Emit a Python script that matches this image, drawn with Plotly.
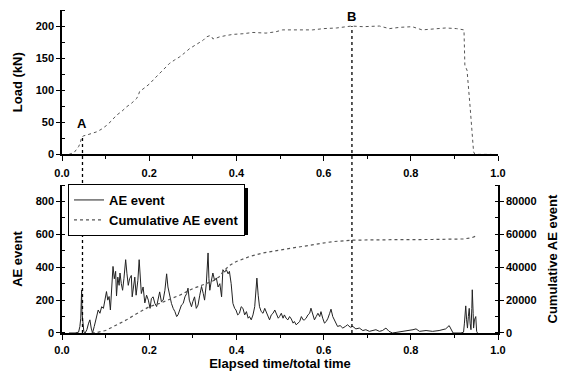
import plotly.graph_objects as go

# ---------------- data ----------------
LOAD_X = [0.016, 0.028, 0.038, 0.042, 0.045, 0.050, 0.056, 0.067, 0.079, 0.090, 0.102, 0.113,
          0.125, 0.137, 0.148, 0.160, 0.171, 0.175, 0.178, 0.190, 0.201, 0.212, 0.224, 0.236,
          0.247, 0.258, 0.270, 0.281, 0.293, 0.305, 0.316, 0.324, 0.331, 0.339, 0.343, 0.346,
          0.353, 0.361, 0.375, 0.392, 0.415, 0.438, 0.468, 0.490, 0.506, 0.529, 0.545, 0.575,
          0.600, 0.630, 0.664, 0.690, 0.728, 0.751, 0.775, 0.803, 0.826, 0.850, 0.880, 0.905,
          0.922, 0.924, 0.929, 0.936, 0.940, 0.944, 0.947, 0.985]
LOAD_Y = [0, 3, 12, 18, 27, 29, 30, 32, 35, 39, 45, 52,
          61, 67, 74, 80, 87, 92, 98, 104, 110, 118, 126, 134,
          142, 147, 152, 158, 165, 170, 175, 178, 183, 185, 184, 180,
          181, 183, 185, 187, 188, 190, 189, 191, 194, 194, 193, 194,
          196, 197, 200, 199, 200, 196, 198, 199, 194, 195, 197, 196,
          194, 139, 131, 74, 33, 4, 0, 0]

AE_X = [0.016, 0.030, 0.038, 0.041, 0.043, 0.044, 0.045, 0.046, 0.048, 0.050, 0.053, 0.057,
        0.061, 0.064, 0.067, 0.070, 0.074, 0.078, 0.083, 0.087, 0.091, 0.095, 0.099, 0.102,
        0.105, 0.108, 0.111, 0.114, 0.117, 0.120, 0.123, 0.125, 0.128, 0.131, 0.133, 0.136,
        0.139, 0.142, 0.146, 0.149, 0.152, 0.155, 0.159, 0.161, 0.164, 0.167, 0.170, 0.174,
        0.177, 0.180, 0.182, 0.186, 0.190, 0.194, 0.198, 0.202, 0.205, 0.209, 0.213, 0.217,
        0.220, 0.224, 0.228, 0.232, 0.236, 0.240, 0.243, 0.247, 0.251, 0.255, 0.259, 0.263,
        0.266, 0.270, 0.274, 0.278, 0.282, 0.286, 0.289, 0.292, 0.297, 0.300, 0.304, 0.308,
        0.312, 0.316, 0.320, 0.324, 0.327, 0.331, 0.335, 0.337, 0.339, 0.342, 0.346, 0.350,
        0.354, 0.358, 0.362, 0.366, 0.369, 0.373, 0.377, 0.381, 0.384, 0.388, 0.392, 0.396,
        0.399, 0.403, 0.407, 0.411, 0.415, 0.419, 0.423, 0.427, 0.430, 0.434, 0.438, 0.442,
        0.445, 0.447, 0.450, 0.453, 0.457, 0.461, 0.465, 0.468, 0.472, 0.476, 0.480, 0.484,
        0.488, 0.492, 0.496, 0.499, 0.503, 0.507, 0.510, 0.514, 0.518, 0.522, 0.526, 0.530,
        0.533, 0.537, 0.541, 0.545, 0.549, 0.553, 0.556, 0.560, 0.564, 0.568, 0.571, 0.575,
        0.579, 0.583, 0.587, 0.591, 0.594, 0.598, 0.602, 0.606, 0.610, 0.614, 0.617, 0.621,
        0.625, 0.629, 0.632, 0.638, 0.644, 0.650, 0.655, 0.661, 0.667, 0.674, 0.682, 0.690,
        0.697, 0.705, 0.712, 0.720, 0.728, 0.735, 0.743, 0.750, 0.758, 0.770, 0.790, 0.805,
        0.812, 0.820, 0.835, 0.850, 0.865, 0.880, 0.888, 0.892, 0.897, 0.915, 0.921, 0.923,
        0.926, 0.928, 0.930, 0.932, 0.934, 0.936, 0.938, 0.940, 0.941, 0.943, 0.944, 0.946,
        0.949, 0.951, 0.953]
AE_Y = [0, 0, 5, 40, 90, 150, 262, 120, 60, 10, 0, 20,
        60, 80, 30, 0, 40, 90, 140, 120, 160, 150, 200, 252,
        200, 222, 140, 300, 405, 330, 375, 225, 340, 290, 365, 300,
        260, 330, 446, 360, 290, 330, 350, 220, 280, 340, 230, 320,
        446, 350, 240, 280, 183, 230, 200, 150, 210, 220, 180, 161,
        200, 250, 190, 200, 260, 360, 280, 220, 180, 150, 130, 100,
        110, 140, 170, 180, 220, 240, 273, 200, 160, 190, 220, 150,
        170, 230, 283, 240, 200, 300, 487, 330, 260, 310, 365, 320,
        335, 280, 300, 220, 385, 370, 385, 360, 375, 300, 180, 150,
        140, 110, 120, 160, 150, 110, 130, 90, 100, 80, 110, 160,
        250, 334, 230, 160, 130, 120, 150, 130, 100, 80, 110, 120,
        140, 110, 90, 100, 120, 90, 110, 90, 80, 100, 85, 60,
        70, 50, 60, 69, 100, 80, 80, 90, 110, 120, 151, 110,
        80, 100, 120, 100, 130, 90, 60, 70, 90, 120, 145, 100,
        80, 60, 40, 45, 30, 40, 50, 35, 40, 25, 30, 15,
        20, 10, 15, 20, 10, 15, 30, 10, 0, 5, 10, 20,
        25, 10, 15, 10, 15, 25, 45, 20, 0, 0, 5, 60,
        165, 80, 30, 100, 150, 60, 20, 150, 263, 120, 30, 80,
        100, 10, 0]

CUM_X = [0.068, 0.080, 0.100, 0.120, 0.148, 0.170, 0.200, 0.224, 0.250, 0.270, 0.300, 0.323,
         0.345, 0.360, 0.370, 0.384, 0.400, 0.430, 0.461, 0.500, 0.545, 0.580, 0.621, 0.667,
         0.700, 0.773, 0.850, 0.900, 0.920, 0.940, 0.950]
CUM_Y = [0, 300, 1500, 4000, 8000, 11500, 16000, 18000, 20800, 23000, 27000, 29500,
         31500, 34000, 37500, 41000, 43500, 46500, 48700, 50500, 52300, 53800, 55600, 56500,
         56700, 56800, 56900, 57000, 57200, 58000, 59000]

EVENT_LABELS = ["A", "B"]
EVENT_X = [0.047, 0.665]
EVENT_LOAD = [28, 200]

X_TICKS = [0.0, 0.2, 0.4, 0.6, 0.8, 1.0]
LOAD_TICKS = [0, 50, 100, 150, 200]
AE_TICKS = [0, 200, 400, 600, 800]
CUM_TICKS = [0, 20000, 40000, 60000, 80000]

# ---------------- layout constants ----------------
# page has an 8px body margin; figure sized so that the plot lands where the reference has it
W, H = 568, 370
ML, MR, MT, MB = 54, 78, 2, 45
TOP_DOM = [0.553, 1.0]
BOT_DOM = [0.0, 0.458]
LOAD_RANGE = [0, 225]
FONT = "Liberation Sans, Arial, sans-serif"
tickfont = dict(family=FONT, size=11, color="black", weight="bold")
titlefont = dict(family=FONT, size=13, color="black", weight="bold")

PLOT_W = W - ML - MR
PLOT_H = H - MT - MB


def px2x(p):  # page pixel -> paper x
    return (p - 8 - ML) / PLOT_W


def py2y(p):  # page pixel -> paper y
    return (8 + H - MB - p) / PLOT_H


fig = go.Figure()

fig.add_trace(go.Scatter(x=LOAD_X, y=LOAD_Y, mode="lines", xaxis="x", yaxis="y",
                         line=dict(color="#555555", width=1, dash="dot"), showlegend=False))
fig.add_trace(go.Scatter(x=AE_X, y=AE_Y, mode="lines", xaxis="x2", yaxis="y2",
                         name="AE event", line=dict(color="#222222", width=1)))
fig.add_trace(go.Scatter(x=CUM_X, y=CUM_Y, mode="lines", xaxis="x2", yaxis="y3",
                         name="Cumulative AE event",
                         line=dict(color="#555555", width=1.2, dash="dot")))


def load_to_paper(v):
    return TOP_DOM[0] + (v - LOAD_RANGE[0]) / (LOAD_RANGE[1] - LOAD_RANGE[0]) * (TOP_DOM[1] - TOP_DOM[0])


EVENT_SHIFT = [4, 1]
for lab, ex, ev, sh in zip(EVENT_LABELS, EVENT_X, EVENT_LOAD, EVENT_SHIFT):
    fig.add_shape(type="line", xref="x", yref="paper", x0=ex, x1=ex, y0=0, y1=load_to_paper(ev),
                  line=dict(color="black", width=1.3, dash="dot"))
    fig.add_annotation(x=ex, y=ev, xref="x", yref="y", text=lab, showarrow=False,
                       yshift=sh, yanchor="bottom", borderpad=0,
                       font=dict(family=FONT, size=13, color="black", weight="bold"))

# legend drop shadow (legend box approx. 68..244 x 184..231 page px)
LEG_L, LEG_T, LEG_W, LEG_H = 68, 184, 176, 47
SH = 4
fig.add_shape(type="rect", xref="paper", yref="paper", layer="above",
              x0=px2x(LEG_L + SH), x1=px2x(LEG_L + LEG_W + SH),
              y0=py2y(LEG_T + LEG_H + SH), y1=py2y(LEG_T + SH),
              fillcolor="black", line=dict(width=0))

axis_common = dict(showgrid=False, zeroline=False, showline=True, linecolor="black",
                   linewidth=1.5, tickcolor="black", tickwidth=1.2, tickfont=tickfont)

fig.update_layout(
    width=W, height=H,
    margin=dict(l=ML, r=MR, t=MT, b=MB),
    paper_bgcolor="white", plot_bgcolor="white",
    showlegend=True,
    legend=dict(x=px2x(LEG_L), y=py2y(LEG_T), xanchor="left", yanchor="top",
                bgcolor="white", bordercolor="black", borderwidth=1,
                font=dict(family=FONT, size=13, color="black", weight="bold"),
                tracegroupgap=0, itemwidth=30),
    xaxis=dict(domain=[0, 1], anchor="y", range=[0, 1.0], tickvals=X_TICKS,
               tickformat=".1f", ticks="outside", ticklen=5, ticklabelstandoff=3,
               minor=dict(dtick=0.1, ticks="outside", ticklen=3, tickcolor="black"),
               **axis_common),
    yaxis=dict(domain=TOP_DOM, anchor="x", range=LOAD_RANGE, tickvals=LOAD_TICKS,
               ticks="outside", ticklen=4,
               minor=dict(dtick=25, ticks="inside", ticklen=3, tickcolor="black"),
               title=dict(text="Load (kN)", font=titlefont, standoff=10),
               **axis_common),
    xaxis2=dict(domain=[0, 1], anchor="y2", range=[0, 1.0], tickvals=X_TICKS,
                tickformat=".1f", ticks="outside", ticklen=5, ticklabelstandoff=1,
                minor=dict(dtick=0.1, ticks="outside", ticklen=3, tickcolor="black"),
                title=dict(text="Elapsed time/total time", font=titlefont, standoff=4),
                **axis_common),
    yaxis2=dict(domain=BOT_DOM, anchor="x2", range=[0, 900], tickvals=AE_TICKS,
                ticks="outside", ticklen=4,
                minor=dict(dtick=100, ticks="inside", ticklen=3, tickcolor="black"),
                title=dict(text="AE event", font=titlefont, standoff=10),
                **axis_common),
    yaxis3=dict(overlaying="y2", side="right", anchor="x2", range=[0, 90000],
                tickvals=CUM_TICKS, tickformat="d", ticks="outside", ticklen=4,
                minor=dict(dtick=10000, ticks="inside", ticklen=3, tickcolor="black"),
                title=dict(text="Cumulative AE event", font=titlefont, standoff=12),
                **axis_common),
)

fig.write_html("out.html")
